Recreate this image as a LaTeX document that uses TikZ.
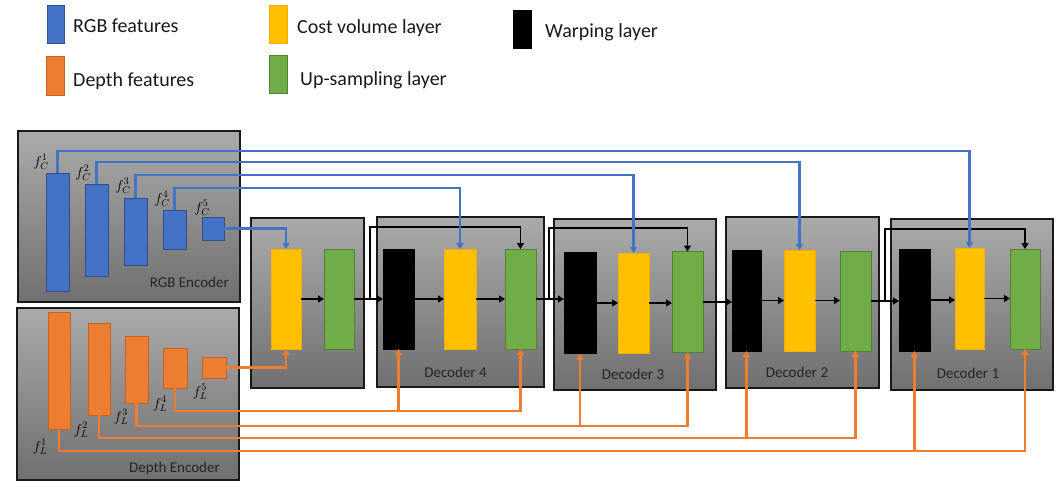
\documentclass[tikz,border=0pt]{standalone}
\usepackage{fontspec}
\setmainfont{Carlito}
\usetikzlibrary{arrows.meta}
\definecolor{cblue}{HTML}{4472C4}
\definecolor{corange}{HTML}{ED7D31}
\definecolor{cyellow}{HTML}{FFC000}
\definecolor{cgreen}{HTML}{70AD47}
\definecolor{ptop}{RGB}{170,170,170}
\definecolor{pbot}{RGB}{112,112,112}
\begin{document}
\begin{tikzpicture}[x=1pt,y=-1pt,
  blk/.style={draw, inner sep=0pt, outer sep=0pt, line width=0.6pt},
  rgbf/.style={blk, fill=cblue, draw=cblue!70!black},
  depf/.style={blk, fill=corange, draw=corange!80!black},
  cost/.style={blk, fill=cyellow, draw=cyellow!70!corange},
  upl/.style={blk, fill=cgreen, draw=cgreen!75!black},
  warp/.style={blk, fill=black, draw=black},
  panel/.style={draw=black!90, line width=1.2pt, top color=ptop, bottom color=pbot, inner sep=0pt, outer sep=0pt},
  bline/.style={draw=cblue, line width=2.2pt},
  oline/.style={draw=corange, line width=2.2pt},
  kline/.style={draw=black, line width=1.3pt},
  tip/.style={-{Triangle[length=6pt,width=7pt]}},
  lbl/.style={font=\fontsize{15}{15}\selectfont, text=black!85, inner sep=0pt},
  leg/.style={font=\fontsize{20}{20}\selectfont, anchor=base west, inner sep=0pt, text=black!90},
  mlab/.style={font=\fontsize{14}{14}\selectfont, inner sep=0pt}
]
\useasboundingbox (0,0) rectangle (1056,483);

% ---------- legend ----------
\node[rgbf, minimum width=17pt, minimum height=38pt] (lb) at (55.5,24) {};
\node[depf, minimum width=18pt, minimum height=39pt] (lo) at (55,75.5) {};
\node[cost, minimum width=18pt, minimum height=38pt] (ly) at (278,24) {};
\node[upl, minimum width=18pt, minimum height=38pt] (lg) at (278,74) {};
\node[warp, minimum width=18pt, minimum height=38pt] (lk) at (522,29) {};
\node[leg] (tlb) at (73,32) {RGB features};
\node[leg] (tlo) at (73,86) {Depth features};
\node[leg] (tly) at (297,33) {Cost volume layer};
\node[leg] (tlg) at (300,85) {Up-sampling layer};
\node[leg] (tlk) at (545,37) {Warping layer};

% ---------- panels ----------
\node[panel, minimum width=222pt, minimum height=171pt] (rgbenc) at (129,216.5) {};
\node[panel, minimum width=222pt, minimum height=172pt] (depenc) at (128,394) {};
\node[panel, minimum width=113pt, minimum height=170pt] (d0) at (307.5,303) {};
\node[panel, minimum width=167pt, minimum height=170pt] (d4) at (460.5,302) {};
\node[panel, minimum width=162pt, minimum height=171pt] (d3) at (635,304.5) {};
\node[panel, minimum width=153pt, minimum height=171pt] (d2) at (802.5,302.5) {};
\node[panel, minimum width=162pt, minimum height=171pt] (d1) at (972,304.5) {};

\node[lbl, anchor=east] (trgb) at (229,282) {RGB Encoder};
\node[lbl, anchor=east] (tdep) at (220,468) {Depth Encoder};
\node[lbl] (td4) at (455.5,372) {Decoder 4};
\node[lbl] (td3) at (633,374) {Decoder 3};
\node[lbl] (td2) at (797,372) {Decoder 2};
\node[lbl] (td1) at (968,373) {Decoder 1};

% ---------- RGB features ----------
\node[rgbf, minimum width=23pt, minimum height=118pt] (c1) at (57.5,232) {};
\node[rgbf, minimum width=23pt, minimum height=92pt] (c2) at (96.5,230) {};
\node[rgbf, minimum width=23pt, minimum height=67pt] (c3) at (135.5,231.5) {};
\node[rgbf, minimum width=23pt, minimum height=39pt] (c4) at (174.5,229.5) {};
\node[rgbf, minimum width=22pt, minimum height=23pt] (c5) at (213,228.5) {};
\node[mlab] (fc1) at (41,162) {$f_C^1$};
\node[mlab] (fc2) at (83,173) {$f_C^2$};
\node[mlab] (fc3) at (123,186) {$f_C^3$};
\node[mlab] (fc4) at (162,199) {$f_C^4$};
\node[mlab] (fc5) at (202,208) {$f_C^5$};

% ---------- depth features ----------
\node[depf, minimum width=22pt, minimum height=117pt] (l1) at (59,370.5) {};
\node[depf, minimum width=22pt, minimum height=92pt] (l2) at (99,369) {};
\node[depf, minimum width=23pt, minimum height=67pt] (l3) at (136.5,369.5) {};
\node[depf, minimum width=24pt, minimum height=40pt] (l4) at (175,368) {};
\node[depf, minimum width=24pt, minimum height=21pt] (l5) at (214,367.5) {};
\node[mlab] (fl1) at (40,447) {$f_L^1$};
\node[mlab] (fl2) at (81,430) {$f_L^2$};
\node[mlab] (fl3) at (121,417) {$f_L^3$};
\node[mlab] (fl4) at (160,404) {$f_L^4$};
\node[mlab] (fl5) at (200,392) {$f_L^5$};

% ---------- decoder layers ----------
\node[cost, minimum width=30pt, minimum height=100pt] (y0) at (286,299) {};
\node[upl,  minimum width=30pt, minimum height=100pt] (g0) at (339,299) {};

\node[warp, minimum width=31pt, minimum height=100pt] (k4) at (398.5,299) {};
\node[cost, minimum width=32pt, minimum height=100pt] (y4) at (460,299) {};
\node[upl,  minimum width=31pt, minimum height=100pt] (g4) at (520.5,299) {};

\node[warp, minimum width=32pt, minimum height=101pt] (k3) at (580,303) {};
\node[cost, minimum width=31pt, minimum height=100pt] (y3) at (633.5,303) {};
\node[upl,  minimum width=31pt, minimum height=101pt] (g3) at (687.5,302) {};

\node[warp, minimum width=29pt, minimum height=101pt] (k2) at (746.5,300.5) {};
\node[cost, minimum width=31pt, minimum height=101pt] (y2) at (799.5,300.5) {};
\node[upl,  minimum width=31pt, minimum height=100pt] (g2) at (855.5,301) {};

\node[warp, minimum width=31pt, minimum height=102pt] (k1) at (914.5,300) {};
\node[cost, minimum width=29pt, minimum height=101pt] (y1) at (969.5,298.5) {};
\node[upl,  minimum width=30pt, minimum height=100pt] (g1) at (1025,299) {};

% ---------- black data flow ----------
\draw[kline, tip] (y0.east) -- (y0.east -| g0.west);
\draw[kline, tip] (g0.east) -- (g0.east -| k4.west);
\draw[kline, tip] (k4.east) -- (k4.east -| y4.west);
\draw[kline, tip] (y4.east) -- (y4.east -| g4.west);
\draw[kline, tip] (g4.east) -- (g4.east -| k3.west);
\draw[kline, tip] (k3.east) -- (k3.east -| y3.west);
\draw[kline, tip] (y3.east) -- (y3.east -| g3.west);
\draw[kline, tip] (g3.east) -- (g3.east -| k2.west);
\draw[kline, tip] (k2.east) -- (k2.east -| y2.west);
\draw[kline, tip] (y2.east) -- (y2.east -| g2.west);
\draw[kline, tip] (g2.east) -- (g2.east -| k1.west);
\draw[kline, tip] (k1.east) -- (k1.east -| y1.west);
\draw[kline, tip] (y1.east) -- (y1.east -| g1.west);

\coordinate (s4) at (370,299);
\coordinate (s3) at (549,299);
\coordinate (s1) at (885,301);
\draw[kline, tip] (s4) -- (s4 |- 0,227) -| (g4.north);
\draw[kline, tip] (s3) -- (s3 |- 0,228) -| (g3.north);
\draw[kline, tip] (s1) -- (s1 |- 0,229) -| (g1.north);

% ---------- RGB skip connections ----------
\draw[bline, tip] (c1.north) -- (c1.north |- 0,151) -| (y1.north);
\draw[bline, tip] (c2.north) -- (c2.north |- 0,162) -| (y2.north);
\draw[bline, tip] (c3.north) -- (c3.north |- 0,175) -| (y3.north);
\draw[bline, tip] (c4.north) -- (c4.north |- 0,188) -| (y4.north);
\draw[bline, tip] (c5.east) -| (y0.north);

% ---------- depth skip connections ----------
\draw[oline, tip] (l5.east) -| (y0.south);
\draw[oline, tip] (l4.south) -- (l4.south |- 0,411) -| (g4.south);
\draw[oline, tip] (k4.south |- 0,411) -- (k4.south);
\draw[oline, tip] (l3.south) -- (l3.south |- 0,426) -| (g3.south);
\draw[oline, tip] (k3.south |- 0,426) -- (k3.south);
\draw[oline, tip] (l2.south) -- (l2.south |- 0,438) -| (g2.south);
\draw[oline, tip] (k2.south |- 0,438) -- (k2.south);
\draw[oline, tip] (l1.south) -- (l1.south |- 0,451) -| (g1.south);
\draw[oline, tip] (k1.south |- 0,451) -- (k1.south);
\end{tikzpicture}
\end{document}
